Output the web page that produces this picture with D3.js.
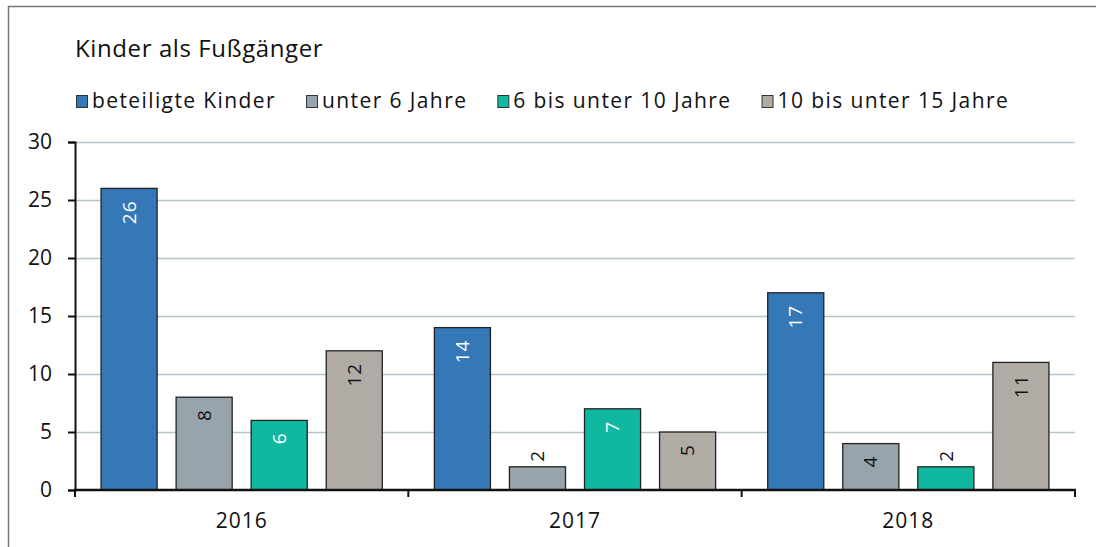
<!DOCTYPE html>
<html>
<head>
  <meta charset="utf-8">
  <title>Kinder als Fußgänger</title>
  <script src="https://d3js.org/d3.v7.min.js"></script>
  <style>
    body { margin: 0; background: #fff; }
    text { font-family: "Open Sans", sans-serif; fill: #111; }
  </style>
</head>
<body>
  <svg id="chart" width="1096" height="547"></svg>

  <script>
    // Daten
    const years = ["2016", "2017", "2018"];
    const seriesNames = ["beteiligte Kinder", "unter 6 Jahre", "6 bis unter 10 Jahre", "10 bis unter 15 Jahre"];
    const beteiligte = [26, 14, 17];
    const unter6 = [8, 2, 4];
    const von6bis10 = [6, 7, 2];
    const von10bis15 = [12, 5, 11];
    const yTicks = [0, 5, 10, 15, 20, 25, 30];

    const colors = ["#3478b8", "#98a4ac", "#10b8a0", "#b0aba4"];
    const labelColors = ["#fff", "#111", "#fff", "#111"];
    const allSeries = [beteiligte, unter6, von6bis10, von10bis15];

    const svg = d3.select("#chart");
    const margin = { left: 75, right: 21, top: 142, bottom: 57 };
    const width = 1096, height = 547;

    // Rahmen
    svg.append("path")
      .attr("d", `M8.5,${height} V6.5 H${width}`)
      .attr("fill", "none")
      .attr("stroke", "#777")
      .attr("stroke-width", 1.5);

    // Titel
    svg.append("text")
      .attr("x", 75).attr("y", 57)
      .style("font-size", "24px")
      .style("letter-spacing", "0.6px")
      .text("Kinder als Fußgänger");

    // Legende
    const legend = svg.append("g").attr("transform", "translate(76,108)");
    let lx = 0;
    seriesNames.forEach((name, i) => {
      const g = legend.append("g").attr("transform", `translate(${lx},0)`);
      g.append("rect")
        .attr("x", 0.5).attr("y", -12.5).attr("width", 11).attr("height", 12)
        .attr("fill", colors[i]).attr("stroke", "#333");
      const t = g.append("text").attr("x", 16).attr("y", 0)
        .style("font-size", "21px").style("letter-spacing", "1.4px").text(name);
      lx += 16 + t.node().getComputedTextLength() + 30;
    });

    // Skalen
    const x0 = d3.scaleBand().domain(years).range([margin.left, width - margin.right]);
    const x1 = d3.scaleBand().domain(d3.range(seriesNames.length))
      .range([0, x0.bandwidth()]).paddingInner(0.253).paddingOuter(0.347);
    const y = d3.scaleLinear().domain([0, 30]).range([height - margin.bottom, margin.top]);

    // Gitterlinien
    svg.append("g").selectAll("line").data(yTicks.filter(d => d > 0)).enter()
      .append("line")
      .attr("x1", margin.left).attr("x2", width - margin.right)
      .attr("y1", d => Math.round(y(d)) + 0.5).attr("y2", d => Math.round(y(d)) + 0.5)
      .attr("stroke", "#b9c3ca").attr("stroke-width", 1.5);

    // Balken
    const groups = svg.append("g").selectAll("g").data(years).enter()
      .append("g").attr("transform", d => `translate(${x0(d)},0)`);

    groups.each(function(year, yi) {
      const g = d3.select(this);
      allSeries.forEach((vals, si) => {
        const v = vals[yi];
        const bx = x1(si);
        g.append("rect")
          .attr("x", bx).attr("y", y(v))
          .attr("width", x1.bandwidth()).attr("height", y(0) - y(v))
          .attr("fill", colors[si]).attr("stroke", "#222").attr("stroke-width", 1.3);
        const inside = (y(0) - y(v)) > 30;
        const cx = bx + x1.bandwidth() / 2;
        const ty = inside ? y(v) + 12 : y(v) - 5;
        g.append("text")
          .attr("transform", `translate(${cx},${ty}) rotate(-90)`)
          .attr("text-anchor", inside ? "end" : "start")
          .attr("dy", "0.35em")
          .style("font-size", "19px")
          .style("letter-spacing", "1px")
          .style("fill", inside ? labelColors[si] : "#111")
          .text(v);
      });
    });

    // Y-Achse
    const yAxis = svg.append("g").attr("transform", `translate(${margin.left},0)`)
      .call(d3.axisLeft(y).tickValues(yTicks).tickSize(7).tickPadding(16));
    yAxis.select(".domain").attr("stroke", "#111").attr("stroke-width", 2);
    yAxis.selectAll(".tick line").attr("stroke", "#111").attr("stroke-width", 2);
    yAxis.selectAll(".tick text").style("font-size", "21px").style("font-family", "Open Sans, sans-serif").attr("fill", "#111");

    // X-Achse
    const xAxis = svg.append("g").attr("transform", `translate(0,${y(0)})`);
    xAxis.append("line")
      .attr("x1", margin.left - 1).attr("x2", width - margin.right + 1)
      .attr("stroke", "#111").attr("stroke-width", 2.5);
    const bounds = years.map(d => x0(d)).concat([x0(years[years.length - 1]) + x0.bandwidth()]);
    xAxis.selectAll(".xtick").data(bounds).enter()
      .append("line")
      .attr("x1", d => d).attr("x2", d => d).attr("y1", 0).attr("y2", 7)
      .attr("stroke", "#111").attr("stroke-width", 2);
    xAxis.selectAll(".xlabel").data(years).enter()
      .append("text")
      .attr("x", d => x0(d) + x0.bandwidth() / 2).attr("y", 38)
      .attr("text-anchor", "middle")
      .style("font-size", "21px")
      .style("letter-spacing", "1px")
      .text(d => d);
  </script>
</body>
</html>
